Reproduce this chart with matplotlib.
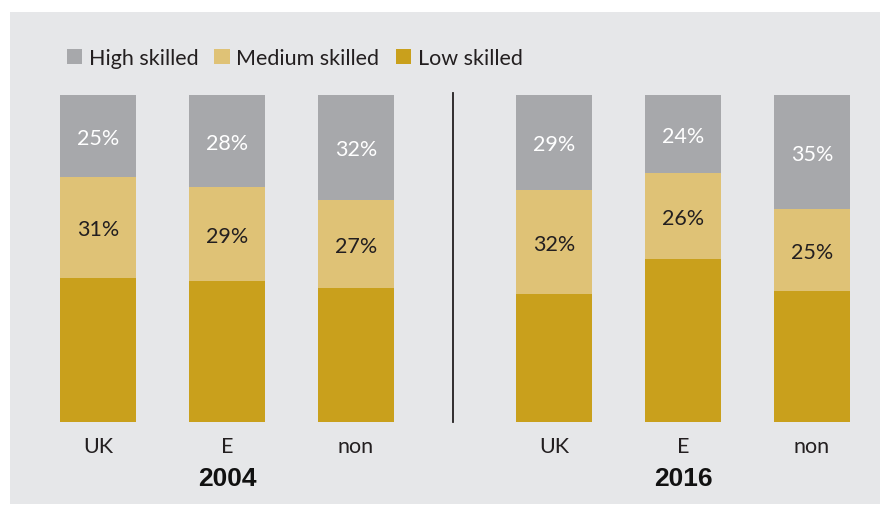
import matplotlib.pyplot as plt

# data (% of employment by skill level)
years = ['2004', '2016']
groups = ['UK', 'E', 'non']
high = [25, 28, 32, 29, 24, 35]
medium = [31, 29, 27, 32, 26, 25]
low = [100 - h - m for h, m in zip(high, medium)]
positions = [0, 1, 2, 3.535, 4.535, 5.535]
tick_labels = groups + groups

COL_HIGH = '#a7a8ab'
COL_MED = '#dfc276'
COL_LOW = '#c9a01c'
BG = '#e6e7e9'
FS = 15.5

plt.rcParams['font.family'] = ['Lato', 'DejaVu Sans']

W, H = 885, 510
fig = plt.figure(figsize=(W / 100, H / 100), dpi=100)
fig.patch.set_facecolor('white')

# grey panel behind the chart
bg_ax = fig.add_axes([10 / W, 1 - 505 / H, 870 / W, 492 / H])
bg_ax.set_facecolor(BG)
bg_ax.set_xticks([])
bg_ax.set_yticks([])
for s in bg_ax.spines.values():
    s.set_visible(False)

# axes: x from pixel 10 to 880, y bars from pixel 423 (0) to 96 (100)
ax = fig.add_axes([10 / W, 1 - 423 / H, 870 / W, 327 / H])
ax.set_facecolor('none')
unit = 129.0
ax.set_xlim((10 - 98) / unit, (880 - 98) / unit)
ax.set_ylim(0, 100)
ax.axis('off')

width = 76 / unit
b_low = ax.bar(positions, low, width, color=COL_LOW, label='Low skilled')
b_med = ax.bar(positions, medium, width, bottom=low, color=COL_MED,
               label='Medium skilled')
b_high = ax.bar(positions, high, width,
                bottom=[l + m for l, m in zip(low, medium)],
                color=COL_HIGH, label='High skilled')

for x, l, m, h in zip(positions, low, medium, high):
    ax.text(x, l + m / 2, f'{m}%', ha='center', va='center_baseline',
            fontsize=FS, color='#231f20')
    ax.text(x, l + m + h / 2, f'{h}%', ha='center', va='center_baseline',
            fontsize=FS, color='white')

for x, lab in zip(positions, tick_labels):
    ax.text(x, -6.6, lab, ha='center', va='center_baseline', fontsize=FS,
            color='#231f20', clip_on=False)

ax.text(positions[1], -17, years[0], ha='center', va='center', fontsize=19,
        fontweight='bold', family='Liberation Sans', color='#111111',
        clip_on=False)
ax.text(positions[4], -17, years[1], ha='center', va='center', fontsize=19,
        fontweight='bold', family='Liberation Sans', color='#111111',
        clip_on=False)

# divider between years
ax.plot([2.752, 2.752], [0, 100.5], color='#231f20', lw=1.3, clip_on=False)

ax.legend(handles=[b_high, b_med, b_low],
          labels=['High skilled', 'Medium skilled', 'Low skilled'],
          loc='center left', bbox_to_anchor=(56 / W, 1 - 59 / H),
          bbox_transform=fig.transFigure, ncol=3, frameon=False,
          fontsize=FS, handlelength=0.72, handleheight=0.72,
          handletextpad=0.3, columnspacing=0.75, borderpad=0,
          labelcolor='#231f20')

fig.savefig('out.png', dpi=100)
